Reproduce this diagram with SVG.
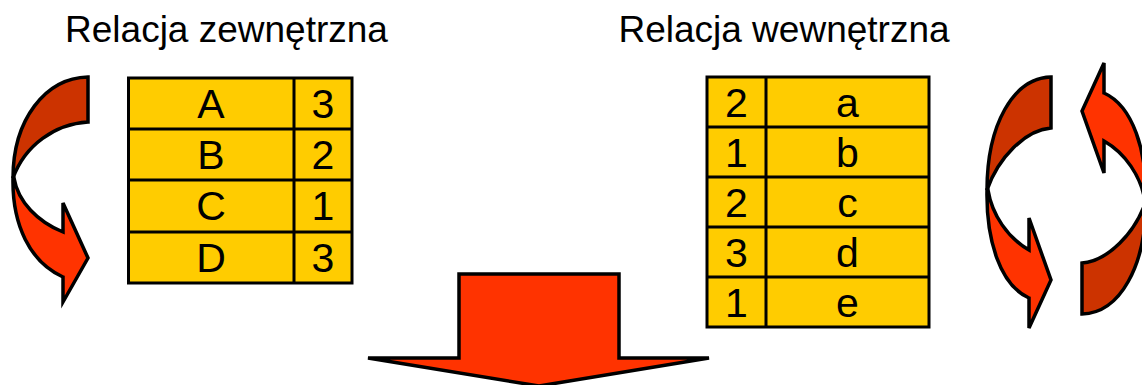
<svg xmlns="http://www.w3.org/2000/svg" width="1142" height="385" viewBox="0 0 1142 385">
  <style>
    .title { font-family: "Liberation Sans", Arial, sans-serif; font-size: 37px; fill: #000; text-anchor: middle; }
    .cell { font-family: "Liberation Sans", Arial, sans-serif; font-size: 41px; fill: #000; text-anchor: middle; }
    .tbl { fill: #FFCC00; stroke: #000; stroke-width: 3; }
    .grid { stroke: #000; stroke-width: 3; fill: none; }
    .dark { fill: #CC3300; stroke: #000; stroke-width: 3.5; stroke-linejoin: miter; }
    .bright { fill: #FF3300; stroke: #000; stroke-width: 3.5; stroke-linejoin: miter; }
  </style>
  <rect width="1142" height="385" fill="#fff"/>

  <g id="title-outer"><text class="title" x="226.5" y="42">Relacja zewnętrzna</text></g>
  <g id="title-inner"><text class="title" x="784" y="42">Relacja wewnętrzna</text></g>

  <g id="table-outer">
    <rect class="tbl" x="128.5" y="78" width="223.5" height="205"/>
    <path class="grid" d="M294 78V283M128.5 129H352M128.5 180H352M128.5 232H352"/>
    <text class="cell" x="211" y="118">A</text><text class="cell" x="323" y="118">3</text>
    <text class="cell" x="211" y="169">B</text><text class="cell" x="323" y="169">2</text>
    <text class="cell" x="211" y="220">C</text><text class="cell" x="323" y="220">1</text>
    <text class="cell" x="211" y="272">D</text><text class="cell" x="323" y="272">3</text>
  </g>

  <g id="table-inner">
    <rect class="tbl" x="707" y="77" width="222" height="250"/>
    <path class="grid" d="M766 77V327M707 127H929M707 177H929M707 227H929M707 277H929"/>
    <text class="cell" x="736.5" y="117">2</text><text class="cell" x="847.5" y="117">a</text>
    <text class="cell" x="736.5" y="167">1</text><text class="cell" x="847.5" y="167">b</text>
    <text class="cell" x="736.5" y="217">2</text><text class="cell" x="847.5" y="217">c</text>
    <text class="cell" x="736.5" y="267">3</text><text class="cell" x="847.5" y="267">d</text>
    <text class="cell" x="736.5" y="317">1</text><text class="cell" x="847.5" y="317">e</text>
  </g>

  <g id="arrow-outer-loop">
    <path class="bright" d="M13 178C12 225 30 262 63 277L63 302L88 258L63 203L63 232C38 222 18 202 14 178Z"/>
    <path class="dark" d="M88 77C45 78 13 120 13 178C25 145 55 124 88 122Z"/>
  </g>

  <g id="arrow-inner-down">
    <path class="bright" d="M987 190C986 240 1000 285 1029 298L1029 328L1051 280L1029 218L1029 250C1008 238 992 215 988 190Z"/>
    <path class="dark" d="M1051 77C1013 78 987 125 987 190C998 158 1025 130 1051 128Z"/>
  </g>

  <g id="arrow-inner-up" transform="rotate(180 1066.5 195.5)">
    <path class="bright" d="M987 190C986 240 1000 285 1029 298L1029 328L1051 280L1029 218L1029 250C1008 238 992 215 988 190Z"/>
    <path class="dark" d="M1051 77C1013 78 987 125 987 190C998 158 1025 130 1051 128Z"/>
  </g>

  <g id="connectors">
    <path class="bright" d="M459 274H619V358H709L539 386L368 358H459Z"/>
  </g>
</svg>
